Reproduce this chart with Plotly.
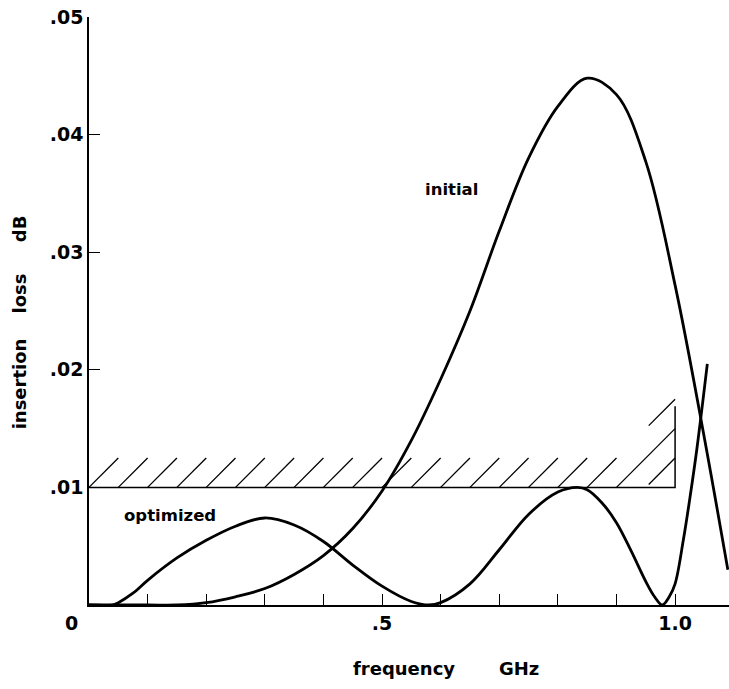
import plotly.graph_objects as go

# ---- data ----
freq_initial = [0.00, 0.10, 0.15, 0.20, 0.25, 0.30, 0.35, 0.40, 0.45, 0.50, 0.55, 0.60,
                0.65, 0.70, 0.75, 0.80, 0.85, 0.90, 0.95, 1.00, 1.05, 1.09]
loss_initial = [0.0, 0.0, 0.0, 0.0002, 0.0007, 0.0014, 0.0026, 0.0042, 0.0065, 0.0097, 0.0140, 0.0192,
                0.0250, 0.0318, 0.0380, 0.0424, 0.0448, 0.0434, 0.0377, 0.0272, 0.0142, 0.0030]

freq_optimized = [0.00, 0.04, 0.05, 0.075, 0.10, 0.15, 0.20, 0.25, 0.30, 0.35, 0.40, 0.45, 0.50,
                  0.55, 0.58, 0.60, 0.65, 0.70, 0.75, 0.80, 0.833, 0.85, 0.875, 0.90, 0.925,
                  0.95, 0.965, 0.978, 0.99, 1.00, 1.014, 1.025, 1.037, 1.055]
loss_optimized = [0.0, 0.0, 0.0002, 0.0010, 0.0021, 0.0040, 0.0055, 0.0067, 0.0074, 0.0068, 0.0054, 0.0034, 0.0016,
                  0.0003, 0.0, 0.0002, 0.0018, 0.0047, 0.0077, 0.0096, 0.0100, 0.0098, 0.0087, 0.0070, 0.0046,
                  0.0020, 0.0007, 0.0, 0.0007, 0.0018, 0.0055, 0.0090, 0.0132, 0.0205]

spec_limit = 0.01          # dB, specification line
spec_fmax = 1.0            # GHz, end of spec band
spec_corner_top = 0.0169   # top of vertical edge of spec box

x_tickvals = [0.1, 0.2, 0.3, 0.4, 0.5, 0.6, 0.7, 0.8, 0.9, 1.0]
x_ticktext = ["", "", "", "", ".5", "", "", "", "", "1.0"]
y_tickvals = [0.01, 0.02, 0.03, 0.04, 0.05]
y_ticktext = [".01", ".02", ".03", ".04", ".05"]

# hatch strokes: (line offset, x start, x end)
hatch_slope = 0.05
hatch_segments = [(s / 100, s / 100, s / 100 + 0.05) for s in range(0, 90, 5)] + [
    (0.90, 0.90, 1.0), (0.95, 0.955, 1.0), (0.85, 0.955, 1.0)]

FONT = "DejaVu Sans"

fig = go.Figure()

# hatch
hx, hy = [], []
for s, a, b in hatch_segments:
    hx += [a, b, None]
    hy += [spec_limit + hatch_slope * (a - s), spec_limit + hatch_slope * (b - s), None]
fig.add_trace(go.Scatter(x=hx, y=hy, mode="lines", line=dict(color="black", width=1.3),
                         hoverinfo="skip", showlegend=False))
# spec box outline
fig.add_trace(go.Scatter(x=[0, spec_fmax, spec_fmax], y=[spec_limit, spec_limit, spec_corner_top],
                         mode="lines", line=dict(color="black", width=1.5),
                         hoverinfo="skip", showlegend=False))

fig.add_trace(go.Scatter(x=freq_initial, y=loss_initial, mode="lines",
                         line=dict(color="black", width=2.8, shape="spline", smoothing=1.0),
                         name="initial", showlegend=False))
fig.add_trace(go.Scatter(x=freq_optimized, y=loss_optimized, mode="lines",
                         line=dict(color="black", width=2.8, shape="spline", smoothing=1.0),
                         name="optimized", showlegend=False))

tickfont = dict(family=FONT, size=19, color="black", weight="bold")
fig.update_xaxes(range=[0, 1.092], showline=True, linecolor="black", linewidth=1.5,
                 ticks="inside", ticklen=11, tickwidth=1.4, tickcolor="black",
                 tickvals=x_tickvals, ticktext=x_ticktext, showgrid=False, zeroline=False,
                 tickfont=tickfont)
fig.update_yaxes(range=[0, 0.05], showline=True, linecolor="black", linewidth=1.5,
                 ticks="inside", ticklen=11, tickwidth=1.4, tickcolor="black",
                 tickvals=y_tickvals, ticktext=y_ticktext, showgrid=False, zeroline=False,
                 tickfont=tickfont)

fig.add_annotation(xref="x", yref="y", x=0, y=0, text="0", xshift=-18, yshift=-18,
                   showarrow=False, font=tickfont)
fig.add_annotation(xref="x", yref="y", x=0.618, y=0.0353, text="initial", showarrow=False,
                   font=dict(family=FONT, size=16.5, color="black", weight="bold"))
fig.add_annotation(xref="x", yref="y", x=0.138, y=0.0076, text="optimized", showarrow=False,
                   font=dict(family=FONT, size=16.5, color="black", weight="bold"))

fig.add_annotation(xref="paper", yref="paper", x=0.558, y=-0.13, showarrow=False,
                   text="frequency&nbsp;&nbsp;&nbsp;&nbsp;&nbsp;&nbsp;&nbsp;GHz",
                   font=dict(family=FONT, size=18, color="black", weight="bold"))
fig.add_annotation(xref="paper", yref="paper", x=-0.128, y=0.48, showarrow=False, textangle=-90,
                   text="insertion&nbsp;&nbsp;&nbsp;&nbsp;loss&nbsp;&nbsp;&nbsp;&nbsp;&nbsp;dB",
                   font=dict(family=FONT, size=18, color="black", weight="bold"))

fig.update_layout(width=729, height=689, margin=dict(l=89, r=0, t=17, b=84),
                  plot_bgcolor="white", paper_bgcolor="white", showlegend=False)

fig.write_html("out.html")
